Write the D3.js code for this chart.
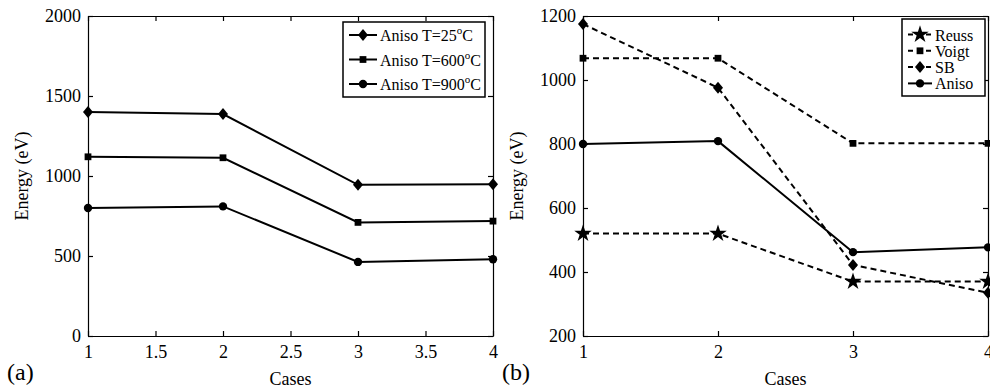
<!DOCTYPE html>
<html>
<head>
<meta charset="utf-8">
<script src="https://cdn.jsdelivr.net/npm/d3@7"></script>
<style>
  body { margin: 0; background: #fff; }
  svg { display: block; }
  text { font-family: "Liberation Serif", "Times New Roman", serif; fill: #000; }
  .axis path, .axis line { stroke: #000; stroke-width: 1.2; }
</style>
</head>
<body>
<svg id="chart" width="990" height="388"></svg>
<script>
const SERIF = '"Liberation Serif", "Times New Roman", serif';

// x values (cases)
const cases = [1, 2, 3, 4];

// panel (a): anisotropic model at three temperatures
const aniso25 = [1400, 1387, 945, 948];
const aniso600 = [1120, 1114, 710, 718];
const aniso900 = [800, 810, 463, 480];

// panel (b): bounds vs anisotropic
const reuss = [520, 520, 370, 370];
const voigt = [1068, 1068, 802, 802];
const sb = [1175, 976, 422, 335];
const aniso = [800, 809, 462, 477];

const ticksA = [1, 1.5, 2, 2.5, 3, 3.5, 4];
const ticksAY = [0, 500, 1000, 1500, 2000];
const ticksB = [1, 2, 3, 4];
const ticksBY = [200, 400, 600, 800, 1000, 1200];

const svg = d3.select('#chart');

function markerPath(kind) {
  if (kind === 'diamond') return 'M0,-6L5,0L0,6L-5,0Z';
  if (kind === 'square') return d3.symbol(d3.symbolSquare, 46)();
  if (kind === 'circle') return d3.symbol(d3.symbolCircle, 55)();
  if (kind === 'star') return d3.symbol(d3.symbolStar, 95)();
}

function drawPanel(opt) {
  const x = d3.scaleLinear().domain([1, 4]).range([opt.left, opt.right]);
  const y = d3.scaleLinear().domain(opt.yDomain).range([336, 16]);
  const g = svg.append('g');

  // axes with inward ticks, mirrored on top/right
  const axes = [
    g.append('g').attr('transform', 'translate(0,336)')
      .call(d3.axisBottom(x).tickValues(opt.xTicks).tickSizeInner(-5).tickSizeOuter(0).tickPadding(9)
        .tickFormat(d3.format(''))),
    g.append('g').attr('transform', 'translate(0,16)')
      .call(d3.axisTop(x).tickValues(opt.xTicks).tickSizeInner(-5).tickSizeOuter(0).tickFormat('')),
    g.append('g').attr('transform', `translate(${opt.left},0)`)
      .call(d3.axisLeft(y).tickValues(opt.yTicks).tickSizeInner(-5).tickSizeOuter(0).tickPadding(7)
        .tickFormat(d3.format(''))),
    g.append('g').attr('transform', `translate(${opt.right},0)`)
      .call(d3.axisRight(y).tickValues(opt.yTicks).tickSizeInner(-5).tickSizeOuter(0).tickFormat(''))
  ];
  axes.forEach((a) => {
    a.attr('class', 'axis').attr('font-family', SERIF).attr('font-size', 18);
    a.selectAll('text').style('font-family', SERIF).style('font-size', '18px');
  });

  const line = d3.line().x((d, i) => x(cases[i])).y((d) => y(d));
  opt.series.forEach((s) => {
    g.append('path')
      .attr('d', line(s.values))
      .attr('fill', 'none')
      .attr('stroke', '#000')
      .attr('stroke-width', 2)
      .attr('stroke-dasharray', s.dash ? '6,4' : null);
    g.selectAll(null)
      .data(s.values)
      .join('path')
      .attr('d', markerPath(s.marker))
      .attr('transform', (d, i) => `translate(${x(cases[i])},${y(d)})`)
      .attr('fill', '#000');
  });

  // axis titles
  g.append('text')
    .attr('x', (opt.left + opt.right) / 2)
    .attr('y', 385)
    .attr('text-anchor', 'middle')
    .style('font-family', SERIF)
    .style('font-size', '18px')
    .text('Cases');
  g.append('text')
    .attr('transform', `translate(${opt.left - 60},176) rotate(-90)`)
    .attr('text-anchor', 'middle')
    .style('font-family', SERIF)
    .style('font-size', '18px')
    .text('Energy (eV)');
  g.append('text')
    .attr('x', opt.left - 81)
    .attr('y', 380)
    .style('font-family', SERIF)
    .style('font-size', '24px')
    .text(opt.tag);

  // legend
  const lg = opt.legend;
  const box = g.append('g');
  box.append('rect')
    .attr('x', lg.x).attr('y', lg.y).attr('width', lg.w).attr('height', lg.h)
    .attr('fill', '#fff').attr('stroke', '#000').attr('stroke-width', 1.5);
  opt.series.forEach((s, i) => {
    const cy = lg.y + lg.first + i * lg.step;
    box.append('line')
      .attr('x1', lg.x + 6).attr('x2', lg.x + 6 + lg.len)
      .attr('y1', cy).attr('y2', cy)
      .attr('stroke', '#000').attr('stroke-width', 2)
      .attr('stroke-dasharray', s.dash ? '5,4' : null);
    box.append('path')
      .attr('d', markerPath(s.marker))
      .attr('transform', `translate(${lg.x + 6 + lg.len / 2},${cy})`);
    const t = box.append('text')
      .attr('x', lg.x + 9 + lg.len)
      .attr('y', cy + 6)
      .style('font-family', SERIF)
      .style('font-size', lg.font + 'px');
    t.append('tspan').text(s.label);
    if (s.temp) {
      t.append('tspan').text(s.temp);
      t.append('tspan').attr('dy', -7).style('font-size', '11px').text('o');
      t.append('tspan').attr('dy', 7).text('C');
    }
  });
}

drawPanel({
  left: 88, right: 493, tag: '(a)',
  yDomain: [0, 2000], xTicks: ticksA, yTicks: ticksAY,
  series: [
    { label: 'Aniso T=', temp: '25', values: aniso25, marker: 'diamond' },
    { label: 'Aniso T=', temp: '600', values: aniso600, marker: 'square' },
    { label: 'Aniso T=', temp: '900', values: aniso900, marker: 'circle' }
  ],
  legend: { x: 343, y: 22, w: 142, h: 75, first: 13, step: 24.5, len: 28, font: 16 }
});

drawPanel({
  left: 583, right: 988, tag: '(b)',
  yDomain: [200, 1200], xTicks: ticksB, yTicks: ticksBY,
  series: [
    { label: 'Reuss', values: reuss, marker: 'star', dash: true },
    { label: 'Voigt', values: voigt, marker: 'square', dash: true },
    { label: 'SB', values: sb, marker: 'diamond', dash: true },
    { label: 'Aniso', values: aniso, marker: 'circle' }
  ],
  legend: { x: 902, y: 19, w: 83, h: 77, first: 15.5, step: 16.3, len: 24, font: 16 }
});
</script>
</body>
</html>
